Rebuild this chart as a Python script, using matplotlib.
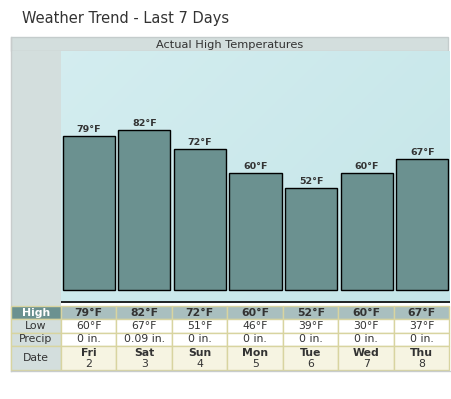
import matplotlib
matplotlib.use("Agg")
import matplotlib.pyplot as plt
import numpy as np
from matplotlib.patches import Rectangle

days = ["Fri", "Sat", "Sun", "Mon", "Tue", "Wed", "Thu"]
dates = ["2", "3", "4", "5", "6", "7", "8"]
highs = [79, 82, 72, 60, 52, 60, 67]
lows = [60, 67, 51, 46, 39, 30, 37]
precip = ["0 in.", "0.09 in.", "0 in.", "0 in.", "0 in.", "0 in.", "0 in."]
row_labels = ["High", "Low", "Precip", "Date"]

W, H = 452, 399
fig = plt.figure(figsize=(W / 100, H / 100), dpi=100)
fig.patch.set_facecolor("white")

def fx(x): return x / W
def fy(y): return 1 - y / H

# overlay axes in pixel coordinates
ov = fig.add_axes([0, 0, 1, 1])
ov.set_xlim(0, W); ov.set_ylim(H, 0); ov.axis("off")

ov.text(22, 19, "Weather Trend - Last 7 Days", fontsize=10.5, color="#333333",
        va="center", ha="left")

# header
ov.add_patch(Rectangle((11, 37), 437, 14, facecolor="#d3dedd", edgecolor="#c4cccc", lw=1))
ov.text(230, 44.5, "Actual High Temperatures", fontsize=8.2, color="#333333",
        ha="center", va="center")
# left column
ov.add_patch(Rectangle((11, 51), 50, 257, facecolor="#d3dedd", edgecolor="none"))
ov.plot([11, 11], [37, 371], color="#c8cccc", lw=1)

# main chart axes
top, bot = 51, 303
ymin, ymax = -6.65, 122.25
ax = fig.add_axes([fx(61), fy(bot), fx(450 - 61), (bot - top) / H])
grad = np.linspace(0, 1, 200)
gx, gy = np.meshgrid(grad, grad)
c1 = np.array([0.83, 0.93, 0.94])
c2 = np.array([0.77, 0.90, 0.91])
t = (0.6 * gx + 0.4 * gy)[..., None]
img = c1 * (1 - t) + c2 * t
ax.imshow(img, extent=[-0.5, 6.5, ymin, ymax], aspect="auto", origin="upper", zorder=0)
x = np.arange(len(highs))
bars = ax.bar(x, highs, width=0.94, color="#6b9190", edgecolor="black", linewidth=1, zorder=2)
for xi, v in zip(x, highs):
    ax.text(xi, v + 1.0, f"{v}°F", ha="center", va="bottom", fontsize=6.8,
            fontweight="bold", color="#333333", zorder=3)
ax.set_xlim(-0.5, 6.5)
ax.set_ylim(ymin, ymax)
ax.axhline(ymin + 0.5, color="black", lw=1.2, zorder=3)
ax.axis("off")

# table
ov2 = fig.add_axes([0, 0, 1, 1])
ov2.set_xlim(0, W); ov2.set_ylim(H, 0); ov2.axis("off")
col_left = [61 + i * 55.5 for i in range(7)]
cw = 55.5
rows = [(306, 319), (319, 333), (333, 346), (346, 370)]
border = "#d8d4a0"
fs = 7.8
for r, (y0, y1) in enumerate(rows):
    if r == 0:
        lab_bg, cell_bg, fc, lfc = "#6b9190", "#a9bfbf", "#333333", "white"
    elif r == 3:
        lab_bg, cell_bg, fc, lfc = "#d3dedd", "#f6f4e2", "#333333", "#333333"
    else:
        lab_bg, cell_bg, fc, lfc = "#d3dedd", "white", "#333333", "#333333"
    ov2.add_patch(Rectangle((11, y0), 50, y1 - y0, facecolor=lab_bg, edgecolor=border, lw=1))
    ov2.text(36, (y0 + y1) / 2, row_labels[r], ha="center", va="center", fontsize=fs,
             color=lfc, fontweight="bold" if r == 0 else "normal")
    for i in range(7):
        ov2.add_patch(Rectangle((col_left[i], y0), cw, y1 - y0, facecolor=cell_bg,
                                edgecolor=border, lw=1))
        cx = col_left[i] + cw / 2
        if r == 0:
            ov2.text(cx, (y0 + y1) / 2, f"{highs[i]}°F", ha="center", va="center",
                     fontsize=fs, fontweight="bold", color=fc)
        elif r == 1:
            ov2.text(cx, (y0 + y1) / 2, f"{lows[i]}°F", ha="center", va="center",
                     fontsize=fs, color=fc)
        elif r == 2:
            ov2.text(cx, (y0 + y1) / 2, precip[i], ha="center", va="center",
                     fontsize=fs, color=fc)
        else:
            ov2.text(cx, y0 + 6.5, days[i], ha="center", va="center",
                     fontsize=fs, fontweight="bold", color=fc)
            ov2.text(cx, y0 + 18, dates[i], ha="center", va="center",
                     fontsize=fs, color=fc)
ov2.plot([11, 450], [370.5, 370.5], color="#c8cccc", lw=1)

fig.savefig("out.png", dpi=100)
